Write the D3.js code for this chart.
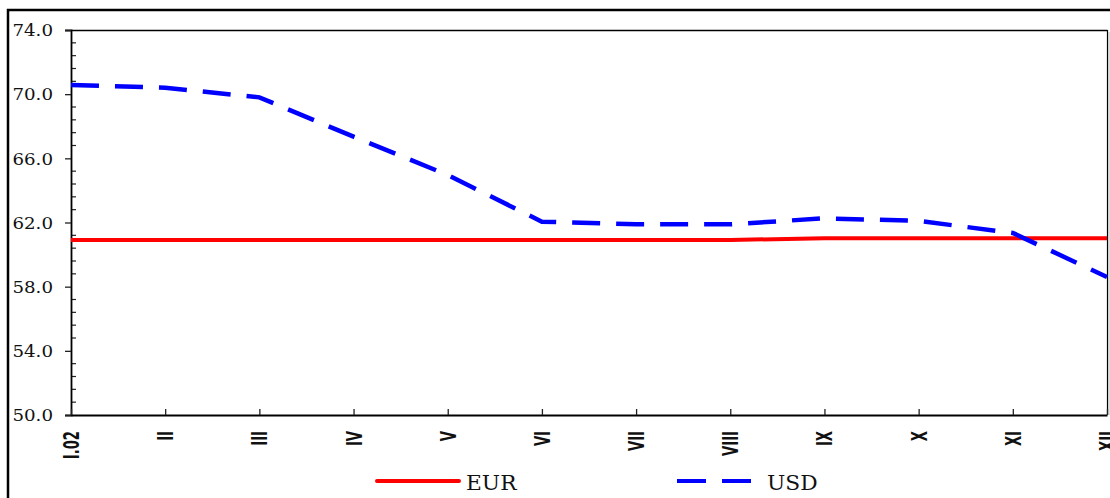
<!DOCTYPE html>
<html>
<head>
<meta charset="utf-8">
<script src="https://cdn.jsdelivr.net/npm/d3@7"></script>
<style>
html,body{margin:0;padding:0;background:#fff;}
svg{display:block;}
</style>
</head>
<body>
<svg id="chart" width="1110" height="498"></svg>
<script>
const months = ["I.02","II","III","IV","V","VI","VII","VIII","IX","X","XI","XII"];
const eur = [60.91,60.91,60.91,60.91,60.91,60.91,60.91,60.91,61.02,61.02,61.02,61.02];
const usd = [70.57,70.40,69.80,67.35,64.96,62.05,61.89,61.89,62.26,62.10,61.35,58.60];
const yTickValues = [50,54,58,62,66,70,74];
const seriesNames = ["EUR","USD"];

const svg = d3.select("#chart");
const W = 1110, H = 498;
const L = 71, R = 1107, T = 30, B = 415;

// outer frame
svg.append("rect").attr("x",8).attr("y",10).attr("width",1300).attr("height",700)
  .attr("fill","none").attr("stroke","#000").attr("stroke-width",2.5);

const x = d3.scalePoint().domain(months).range([L, R]);
const y = d3.scaleLinear().domain([50, 74]).range([B, T]);

// plot border top/right
svg.append("line").attr("x1",L).attr("x2",R+0.5).attr("y1",T+0.5).attr("y2",T+0.5)
  .attr("stroke","#000").attr("stroke-width",1.3);
svg.append("line").attr("x1",R+0.5).attr("x2",R+0.5).attr("y1",T).attr("y2",B)
  .attr("stroke","#000").attr("stroke-width",1.2);
svg.append("line").attr("x1",R+2).attr("x2",R+2).attr("y1",T+2).attr("y2",B)
  .attr("stroke","#bbb").attr("stroke-width",1);

// minor y ticks (inside)
const minor = d3.range(50, 74.001, 0.8).filter(v => Math.abs((v-50)/4 - Math.round((v-50)/4)) > 1e-6);
svg.append("g").selectAll("line").data(minor).join("line")
  .attr("x1",L).attr("x2",L+5)
  .attr("y1",d=>y(d)).attr("y2",d=>y(d))
  .attr("stroke","#222").attr("stroke-width",1.2);

// y axis
const yAxis = d3.axisLeft(y).tickValues(yTickValues).tickSize(6).tickFormat(d3.format(".1f"));
const gy = svg.append("g").attr("transform",`translate(${L},0)`).call(yAxis);
gy.select(".domain").attr("stroke","#000").attr("stroke-width",1.8);
gy.selectAll(".tick line").attr("stroke","#222").attr("stroke-width",1.3);
gy.selectAll(".tick text").each(function(d){
  const t = d3.select(this);
  t.attr("x",null).attr("dy",null)
   .attr("text-anchor","end")
   .attr("transform",`translate(-18,5.8) scale(1.14,1)`)
   .attr("font-family","DejaVu Serif").attr("font-size",16).attr("fill","#111");
});

// x axis
const xAxis = d3.axisBottom(x).tickSize(-6).tickSizeOuter(0).tickFormat("");
const gx = svg.append("g").attr("transform",`translate(0,${B})`).call(xAxis);
gx.select(".domain").attr("stroke","#000").attr("stroke-width",2.2);
gx.selectAll(".tick line").attr("stroke","#222").attr("stroke-width",1.3);

// x labels rotated
svg.append("g").selectAll("text").data(months).join("text")
  .attr("transform", d => `translate(${x(d)+8},${B+16}) rotate(-90) scale(0.6,1)`)
  .attr("text-anchor","end")
  .attr("font-family","DejaVu Sans").attr("font-weight","bold").attr("font-size",22)
  .attr("fill","#111")
  .text(d=>d);

// lines
const lineGen = d3.line().x((d,i)=>x(months[i])).y(d=>y(d));
svg.append("path").datum(eur).attr("d",lineGen)
  .attr("fill","none").attr("stroke","#ff0000").attr("stroke-width",4);
svg.append("path").datum(usd).attr("d",lineGen)
  .attr("fill","none").attr("stroke","#0000ff").attr("stroke-width",4.5)
  .attr("stroke-dasharray","28,16");

// legend
const lg = svg.append("g");
lg.append("line").attr("x1",377).attr("x2",459).attr("y1",481).attr("y2",481)
  .attr("stroke","#ff0000").attr("stroke-width",4).attr("stroke-linecap","round");
lg.append("text").attr("transform","translate(466,490) scale(1.06,1)")
  .attr("font-family","DejaVu Serif").attr("font-size",20.5).attr("fill","#111").text(seriesNames[0]);
lg.append("line").attr("x1",677).attr("x2",752).attr("y1",481).attr("y2",481)
  .attr("stroke","#0000ff").attr("stroke-width",4).attr("stroke-dasharray","29,16");
lg.append("text").attr("transform","translate(767,490) scale(1.06,1)")
  .attr("font-family","DejaVu Serif").attr("font-size",20.5).attr("fill","#111").text(seriesNames[1]);
</script>
</body>
</html>
